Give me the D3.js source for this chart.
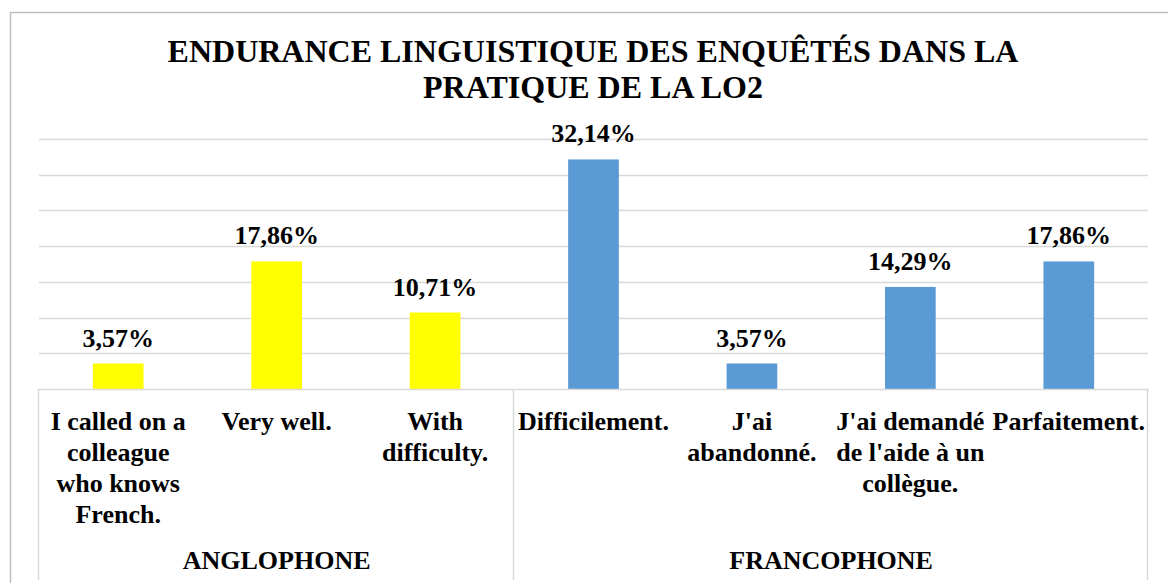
<!DOCTYPE html>
<html>
<head>
<meta charset="utf-8">
<script src="https://cdn.jsdelivr.net/npm/d3@7"></script>
<style>
  body { margin: 0; background: #fff; }
  text { font-family: 'Liberation Serif', 'Times New Roman', serif; font-weight: bold; fill: #000; }
</style>
</head>
<body>
<div id='chart'></div>

<script>
  // chart data
  var groups = ['ANGLOPHONE', 'FRANCOPHONE']
  var categories = [
    ['I called on a', 'colleague', 'who knows', 'French.'],
    ['Very well.'],
    ['With', 'difficulty.'],
    ['Difficilement.'],
    ["J'ai", 'abandonné.'],
    ["J'ai demandé", "de l'aide à un", 'collègue.'],
    ['Parfaitement.']
  ]
  var categoryGroup = [0, 0, 0, 1, 1, 1, 1]
  var values = [3.57, 17.86, 10.71, 32.14, 3.57, 14.29, 17.86]
  var groupColors = ['#ffff00', '#5b9bd5']
  var yTicks = [0, 5, 10, 15, 20, 25, 30, 35]
  var titleLines = ['ENDURANCE LINGUISTIQUE DES ENQUÊTÉS DANS LA', 'PRATIQUE DE LA LO2']

  var width = 1168, height = 583
  var plotLeft = 39, plotRight = 1148, plotTop = 139, plotBase = 389

  var svg = d3.select('#chart')
              .append('svg')
              .attr('width', width)
              .attr('height', height)

  // outer frame
  svg.append('rect')
     .attr('x', 10.5).attr('y', 12.5)
     .attr('width', 1170).attr('height', 600)
     .attr('fill', 'none')
     .attr('stroke', '#bfbfbf')
     .attr('stroke-width', 1.5)

  var idx = d3.range(values.length)

  var x = d3.scaleBand()
            .domain(idx)
            .range([plotLeft, plotRight])
            .paddingInner(0.68)
            .paddingOuter(0.34)

  var cell = d3.scaleBand()
               .domain(idx)
               .range([plotLeft, plotRight])

  var y = d3.scaleLinear()
            .domain([0, 35])
            .range([plotBase, plotTop])

  // gridlines
  svg.selectAll('line.grid')
     .data(yTicks.slice(1))
     .enter()
     .append('line')
     .classed('grid', true)
     .attr('x1', plotLeft).attr('x2', plotRight)
     .attr('y1', function(d) { return Math.round(y(d)) + 0.5 })
     .attr('y2', function(d) { return Math.round(y(d)) + 0.5 })
     .attr('stroke', '#d9d9d9')
     .attr('stroke-width', 1.5)

  // bars
  svg.selectAll('rect.bar')
     .data(idx)
     .enter()
     .append('rect')
     .classed('bar', true)
     .attr('x', function(i) { return x(i) })
     .attr('width', x.bandwidth())
     .attr('y', function(i) { return y(values[i]) })
     .attr('height', function(i) { return y(0) - y(values[i]) })
     .attr('fill', function(i) { return groupColors[categoryGroup[i]] })

  // value labels
  var fmt = function(v) { return d3.format('.2f')(v).replace('.', ',') + '%' }
  svg.selectAll('text.value')
     .data(idx)
     .enter()
     .append('text')
     .classed('value', true)
     .attr('x', function(i) { return x(i) + x.bandwidth() / 2 })
     .attr('y', function(i) { return y(values[i]) - 17 })
     .attr('text-anchor', 'middle')
     .style('font-size', '26px')
     .text(function(i) { return fmt(values[i]) })

  // category axis box
  var axisBottom = 580
  svg.append('line')
     .attr('x1', plotLeft - 1).attr('x2', plotRight + 1)
     .attr('y1', plotBase + 0.5).attr('y2', plotBase + 0.5)
     .attr('stroke', '#d9d9d9').attr('stroke-width', 1.5)

  var dividers = [plotLeft, cell(3), plotRight]
  svg.selectAll('line.div')
     .data(dividers)
     .enter()
     .append('line')
     .classed('div', true)
     .attr('x1', function(d) { return Math.round(d) - 0.5 })
     .attr('x2', function(d) { return Math.round(d) - 0.5 })
     .attr('y1', plotBase).attr('y2', axisBottom)
     .attr('stroke', '#d9d9d9').attr('stroke-width', 1.5)

  // category labels
  var catText = svg.selectAll('text.cat')
                   .data(idx)
                   .enter()
                   .append('text')
                   .classed('cat', true)
                   .attr('text-anchor', 'middle')
                   .style('font-size', '26px')

  catText.selectAll('tspan')
         .data(function(i) {
           return categories[i].map(function(t) { return { i: i, t: t } })
         })
         .enter()
         .append('tspan')
         .attr('x', function(d) { return cell(d.i) + cell.bandwidth() / 2 })
         .attr('y', function(d, k) { return 430 + k * 31 })
         .text(function(d) { return d.t })

  // group labels
  svg.selectAll('text.group')
     .data(groups)
     .enter()
     .append('text')
     .classed('group', true)
     .attr('x', function(d, g) {
       return g == 0 ? (plotLeft + cell(3)) / 2 : (cell(3) + plotRight) / 2
     })
     .attr('y', 569)
     .attr('text-anchor', 'middle')
     .style('font-size', '26px')
     .text(function(d) { return d })

  // title
  svg.selectAll('text.title')
     .data(titleLines)
     .enter()
     .append('text')
     .classed('title', true)
     .attr('x', 593)
     .attr('y', function(d, k) { return 62 + k * 36 })
     .attr('text-anchor', 'middle')
     .style('font-size', '32px')
     .text(function(d) { return d })
</script>
</body>
</html>
